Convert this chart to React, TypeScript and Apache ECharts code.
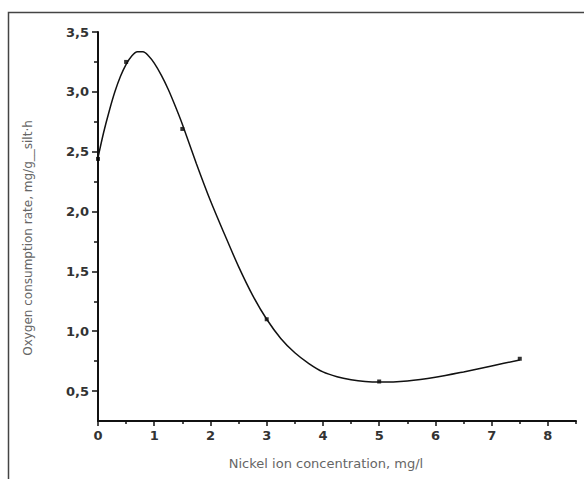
import React, { useEffect, useRef } from "react";
import * as echarts from "echarts";

// Measured data points (markers)
const pointX = [0, 0.5, 1.5, 3, 5, 7.5];
const pointY = [2.44, 3.25, 2.69, 1.1, 0.58, 0.77];

// Fitted curve
const curveX = [0, 0.1, 0.2, 0.3, 0.4, 0.5, 0.6, 0.7, 0.8, 0.9, 1.0, 1.125, 1.25, 1.375, 1.5, 1.75, 2.0, 2.25, 2.5, 2.75, 3.0, 3.25, 3.5, 3.75, 4.0, 4.25, 4.5, 4.75, 5.0, 5.5, 6.0, 6.5, 7.0, 7.5];
const curveY = [2.45, 2.66, 2.84, 3.0, 3.13, 3.23, 3.3, 3.335, 3.335, 3.3, 3.24, 3.14, 3.02, 2.88, 2.73, 2.4, 2.09, 1.81, 1.54, 1.3, 1.1, 0.94, 0.82, 0.73, 0.66, 0.62, 0.595, 0.58, 0.575, 0.585, 0.615, 0.66, 0.71, 0.76];

const xMajor = [0, 1, 2, 3, 4, 5, 6, 7, 8];
const xMinor = [0.5, 1.5, 2.5, 3.5, 4.5, 5.5, 6.5, 7.5, 8.5];
const yMajor = [0.5, 1.0, 1.5, 2.0, 2.5, 3.0, 3.5];
const yMinor = [0.75, 1.25, 1.75, 2.25, 2.75, 3.25];

const xName = "Nickel ion concentration, mg/l";
const yName = "Oxygen consumption rate, mg/g__silt·h";

const FONT = "'DejaVu Sans', 'Liberation Sans', Arial, sans-serif";

export default function App() {
  const ref = useRef<HTMLDivElement>(null);
  useEffect(() => {
    if (!ref.current) return;
    const chart = echarts.init(ref.current, undefined, { renderer: "svg" });
    const labelStyle = {
      color: "#333",
      fontFamily: FONT,
      fontSize: 13,
      fontWeight: "bold" as const,
    };
    chart.setOption({
      animation: false,
      backgroundColor: "#fff",
      grid: { left: 98, top: 32, right: 8, bottom: 58, containLabel: false },
      xAxis: [
        {
          type: "value",
          min: 0,
          max: 8.5,
          axisLine: { show: true, lineStyle: { color: "#111", width: 2 } },
          axisTick: { show: true, length: 5, customValues: xMajor, lineStyle: { color: "#111", width: 1.5 } },
          axisLabel: {
            ...labelStyle,
            margin: 8,
            customValues: xMajor,
            formatter: (v: number) => String(v),
          },
          splitLine: { show: false },
        },
        {
          type: "value",
          min: 0,
          max: 8.5,
          position: "bottom",
          axisLine: { show: false },
          axisTick: { show: true, length: 3, customValues: xMinor, lineStyle: { color: "#111", width: 1.5 } },
          axisLabel: { show: false },
          splitLine: { show: false },
        },
      ],
      yAxis: [
        {
          type: "value",
          min: 0.25,
          max: 3.5,
          axisLine: { show: true, lineStyle: { color: "#111", width: 2 } },
          axisTick: { show: true, length: 6, customValues: yMajor, lineStyle: { color: "#111", width: 1.5 } },
          axisLabel: {
            ...labelStyle,
            margin: 9,
            customValues: yMajor,
            formatter: (v: number) => v.toFixed(1).replace(".", ","),
          },
          splitLine: { show: false },
        },
        {
          type: "value",
          min: 0.25,
          max: 3.5,
          position: "left",
          axisLine: { show: false },
          axisTick: { show: true, length: 4, customValues: yMinor, lineStyle: { color: "#111", width: 1.5 } },
          axisLabel: { show: false },
          splitLine: { show: false },
        },
      ],
      series: [
        {
          type: "line",
          xAxisIndex: 0,
          yAxisIndex: 0,
          data: curveX.map((x, i) => [x, curveY[i]]),
          smooth: 0.3,
          symbol: "none",
          lineStyle: { color: "#111", width: 1.5 },
        },
        {
          type: "scatter",
          xAxisIndex: 0,
          yAxisIndex: 0,
          data: pointX.map((x, i) => [x, pointY[i]]),
          symbol: "rect",
          symbolSize: 4,
          itemStyle: { color: "#000" },
        },
      ],
      graphic: [
        {
          type: "rect",
          shape: { x: 8.5, y: 12.5, width: 700, height: 600 },
          style: { fill: "none", stroke: "#444", lineWidth: 1.5 },
          silent: true,
        },
        {
          type: "text",
          x: 326,
          y: 463,
          style: {
            text: xName,
            fill: "#666",
            font: `13px ${FONT}`,
            textAlign: "center",
            textVerticalAlign: "middle",
          },
        },
        {
          type: "text",
          x: 28,
          y: 238,
          rotation: Math.PI / 2,
          style: {
            text: yName,
            fill: "#666",
            font: `12px ${FONT}`,
            textAlign: "center",
            textVerticalAlign: "middle",
          },
        },
      ],
    });
    return () => chart.dispose();
  }, []);
  return (
    <div
      ref={ref}
      style={{ position: "absolute", left: 0, top: 0, width: 584, height: 479 }}
    />
  );
}
